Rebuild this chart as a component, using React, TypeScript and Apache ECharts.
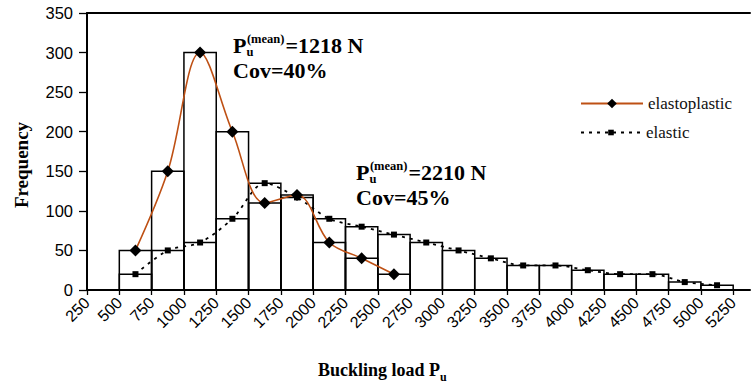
import React, { useEffect, useRef } from "react";
import * as echarts from "echarts";

// Histogram bins (lower edge of each 250 N wide bin)
const binStarts = [
  500, 750, 1000, 1250, 1500, 1750, 2000, 2250, 2500, 2750,
  3000, 3250, 3500, 3750, 4000, 4250, 4500, 4750, 5000,
];
const binWidth = 250;

// Frequencies per bin
const elastoplasticCounts = [50, 150, 300, 200, 110, 120, 60, 40, 20];
const elasticCounts = [
  20, 50, 60, 90, 135, 117, 90, 80, 70, 60,
  50, 40, 31, 31, 25, 20, 20, 10, 6,
];

// Axis ticks
const xTickValues = [
  250, 500, 750, 1000, 1250, 1500, 1750, 2000, 2250, 2500, 2750,
  3000, 3250, 3500, 3750, 4000, 4250, 4500, 4750, 5000, 5250,
];
const yTickMax = 350;

// Summary statistics
const elastoplasticMean = 1218;
const elastoplasticCov = 40;
const elasticMean = 2210;
const elasticCov = 45;

const SERIF = '"Liberation Serif", "Times New Roman", serif';
const SANS = '"Liberation Sans", Arial, sans-serif';

function measure(text: string, font: string): number {
  const ctx = document.createElement("canvas").getContext("2d");
  if (!ctx) return text.length * 10;
  ctx.font = font;
  return ctx.measureText(text).width;
}

function puLabel(x: number, yCap: number, mean: number, cov: number) {
  const big = `bold 22px ${SERIF}`;
  const small = `bold 12.5px ${SERIF}`;
  const wP = measure("P", big);
  const wSup = measure("(mean)", small);
  const t = (tx: number, ty: number, text: string, font: string) => ({
    type: "text",
    x: tx,
    y: ty,
    z: 10,
    style: { text, font, fill: "#000", align: "left", verticalAlign: "middle" },
  });
  return [
    t(x, yCap, "P", big),
    t(x + wP, yCap + 7, "u", small),
    t(x + wP + 0.5, yCap - 6.5, "(mean)", small),
    t(x + wP + wSup + 1.5, yCap, `=${mean} N`, big),
    t(x, yCap + 25, `Cov=${cov}%`, big),
  ];
}

function binRects(counts: number[]) {
  return counts.map((v, i) => [binStarts[i], binStarts[i] + binWidth, v]);
}

function binCenters(counts: number[]) {
  return counts.map((v, i) => [binStarts[i] + binWidth / 2, v]);
}

const renderBin = (_params: any, api: any) => {
  const p0 = api.coord([api.value(0), api.value(2)]);
  const p1 = api.coord([api.value(1), 0]);
  return {
    type: "rect",
    shape: { x: p0[0], y: p0[1], width: p1[0] - p0[0], height: p1[1] - p0[1] },
    style: { fill: "none", stroke: "#000", lineWidth: 1.5 },
  };
};

export default function App() {
  const ref = useRef<HTMLDivElement>(null);

  useEffect(() => {
    if (!ref.current) return;
    const chart = echarts.init(ref.current, undefined, { renderer: "svg" });

    const axisLine = { show: true, lineStyle: { color: "#000", width: 2 } };
    const xTitleFont = `bold 18px ${SERIF}`;
    const yTitleFont = `bold 19px ${SERIF}`;
    const wTitle = measure("Buckling load P", xTitleFont);

    chart.setOption({
      animation: false,
      backgroundColor: "#fff",
      grid: { left: 87, right: 6, top: 13, bottom: 96, containLabel: false },
      xAxis: [
        {
          type: "value",
          min: 250,
          max: 5380,
          interval: 250,
          position: "bottom",
          axisLine,
          axisTick: {
            show: true,
            customValues: xTickValues,
            length: 5,
            lineStyle: { color: "#000", width: 1.3 },
          },
          axisLabel: {
            customValues: xTickValues,
            formatter: (v: number) => String(v),
            rotate: 45,
            margin: 10,
            fontSize: 16,
            fontFamily: SANS,
            color: "#000",
          },
          splitLine: { show: false },
        },
        {
          type: "value",
          min: 250,
          max: 5380,
          position: "top",
          axisLine,
          axisTick: { show: false },
          axisLabel: { show: false },
          splitLine: { show: false },
        },
      ],
      yAxis: {
        type: "value",
        min: 0,
        max: yTickMax,
        interval: 50,
        axisLine,
        axisTick: { show: true, length: 8, lineStyle: { color: "#000", width: 1.3 } },
        axisLabel: { margin: 14, fontSize: 16.5, fontFamily: SANS, color: "#000" },
        splitLine: { show: false },
      },
      legend: [
        {
          data: ["elastoplastic"],
          left: 575,
          top: 90,
          itemWidth: 62,
          itemHeight: 12,
          selectedMode: false,
          textStyle: { fontFamily: SERIF, fontSize: 17, color: "#111" },
        },
        {
          data: ["elastic"],
          left: 575,
          top: 119,
          itemWidth: 60,
          itemHeight: 7,
          selectedMode: false,
          textStyle: { fontFamily: SERIF, fontSize: 17, color: "#111" },
        },
      ],
      graphic: [
        ...puLabel(233, 45, elastoplasticMean, elastoplasticCov),
        ...puLabel(356, 172, elasticMean, elasticCov),
        {
          type: "text",
          x: 21,
          y: 165,
          rotation: Math.PI / 2,
          style: {
            text: "Frequency",
            font: yTitleFont,
            fill: "#000",
            align: "center",
            verticalAlign: "middle",
          },
        },
        {
          type: "text",
          x: 318,
          y: 370,
          style: {
            text: "Buckling load P",
            font: xTitleFont,
            fill: "#000",
            align: "left",
            verticalAlign: "middle",
          },
        },
        {
          type: "text",
          x: 318 + wTitle,
          y: 377,
          style: {
            text: "u",
            font: `bold 12px ${SERIF}`,
            fill: "#000",
            align: "left",
            verticalAlign: "middle",
          },
        },
      ],
      series: [
        {
          name: "elastoplastic bins",
          type: "custom",
          renderItem: renderBin,
          encode: { x: [0, 1], y: 2 },
          data: binRects(elastoplasticCounts),
          z: 2,
        },
        {
          name: "elastic bins",
          type: "custom",
          renderItem: renderBin,
          encode: { x: [0, 1], y: 2 },
          data: binRects(elasticCounts),
          z: 2,
        },
        {
          name: "elastic",
          type: "line",
          data: binCenters(elasticCounts),
          smooth: 0.3,
          symbol: "rect",
          symbolSize: 6,
          itemStyle: { color: "#000" },
          lineStyle: { color: "#000", width: 1.8, type: [3, 5] },
          z: 3,
        },
        {
          name: "elastoplastic",
          type: "line",
          data: binCenters(elastoplasticCounts),
          smooth: 0.35,
          symbol: "diamond",
          symbolSize: 12,
          itemStyle: { color: "#000" },
          lineStyle: { color: "#BE5014", width: 1.6 },
          z: 4,
        },
      ],
    });

    return () => chart.dispose();
  }, []);

  return (
    <div
      ref={ref}
      style={{ position: "fixed", left: 0, top: 0, width: 756, height: 386, background: "#fff" }}
    />
  );
}
